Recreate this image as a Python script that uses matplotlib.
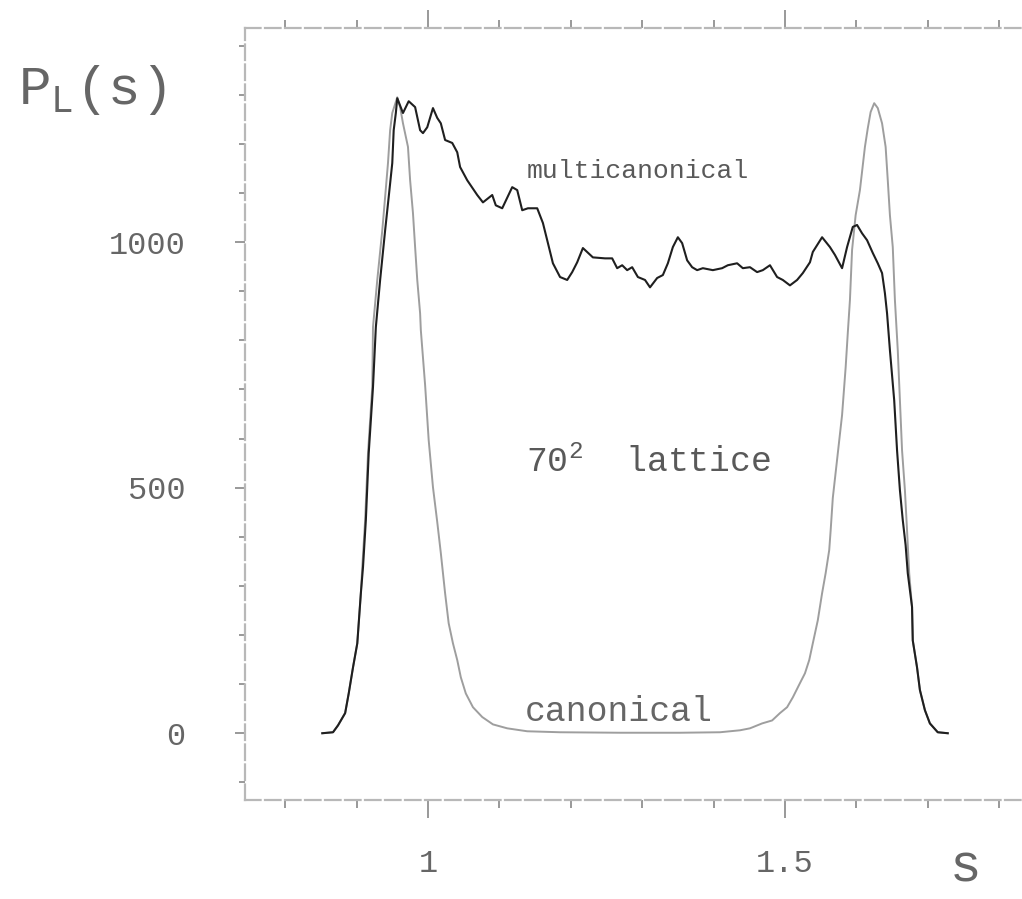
import numpy as np
import matplotlib
matplotlib.use('Agg')
import matplotlib.pyplot as plt
from matplotlib.ticker import MultipleLocator

plt.rcParams['font.family'] = ['Liberation Mono', 'DejaVu Sans Mono']
plt.rcParams['mathtext.fontset'] = 'custom'
plt.rcParams['mathtext.rm'] = 'Liberation Mono'
plt.rcParams['mathtext.it'] = 'Liberation Mono'

#%% probability distributions P_L(s), 70^2 lattice
s_can = [0.852, 0.867, 0.874, 0.884, 0.889, 0.895, 0.901, 0.906, 0.908, 0.912,
         0.916, 0.922, 0.923, 0.929, 0.936, 0.940, 0.944, 0.947, 0.950, 0.957,
         0.961, 0.965, 0.972, 0.975, 0.979, 0.982, 0.985, 0.989, 0.990, 0.996,
         1.001, 1.007, 1.013, 1.018, 1.024, 1.029, 1.035, 1.041, 1.046, 1.053,
         1.063, 1.076, 1.091, 1.111, 1.139, 1.185, 1.269, 1.353, 1.409, 1.437,
         1.451, 1.468, 1.482, 1.493, 1.503, 1.511, 1.521, 1.528, 1.534, 1.539,
         1.546, 1.552, 1.557, 1.562, 1.564, 1.567, 1.574, 1.580, 1.585, 1.588,
         1.591, 1.594, 1.599, 1.605, 1.612, 1.616, 1.620, 1.625, 1.630, 1.636,
         1.641, 1.644, 1.647, 1.651, 1.654, 1.658, 1.661, 1.664, 1.668, 1.671,
         1.674, 1.678, 1.679, 1.685, 1.689, 1.696, 1.703, 1.714, 1.728]
p_can = [0, 2, 16, 41, 81, 134, 183, 285, 338, 434,
         570, 705, 827, 923, 1024, 1092, 1161, 1228, 1263, 1295,
         1275, 1242, 1194, 1126, 1059, 990, 923, 855, 821, 709,
         597, 501, 430, 367, 285, 224, 183, 149, 114, 81,
         53, 33, 18, 10, 4, 2, 1, 1, 2, 6,
         10, 20, 26, 41, 53, 73, 102, 122, 149, 183,
         230, 285, 326, 373, 413, 479, 570, 648, 745, 815,
         882, 984, 1055, 1106, 1194, 1232, 1265, 1283, 1273, 1242,
         1194, 1126, 1055, 990, 882, 780, 678, 576, 495, 413,
         326, 257, 189, 134, 88, 47, 20, 2, 0]

s_mul = [0.852, 0.867, 0.874, 0.884, 0.889, 0.895, 0.901, 0.906, 0.909, 0.913,
         0.917, 0.923, 0.927, 0.933, 0.940, 0.945, 0.950, 0.952, 0.955, 0.957,
         0.965, 0.973, 0.982, 0.989, 0.993, 0.999, 1.007, 1.013, 1.018, 1.024,
         1.034, 1.041, 1.045, 1.055, 1.069, 1.077, 1.090, 1.095, 1.104, 1.118,
         1.125, 1.132, 1.140, 1.153, 1.161, 1.167, 1.175, 1.185, 1.195, 1.202,
         1.209, 1.217, 1.231, 1.248, 1.258, 1.265, 1.272, 1.279, 1.286, 1.294,
         1.304, 1.311, 1.321, 1.329, 1.336, 1.343, 1.350, 1.356, 1.363, 1.370,
         1.377, 1.385, 1.399, 1.412, 1.420, 1.433, 1.441, 1.451, 1.461, 1.469,
         1.479, 1.489, 1.497, 1.507, 1.517, 1.525, 1.535, 1.539, 1.552, 1.563,
         1.570, 1.580, 1.587, 1.595, 1.601, 1.608, 1.615, 1.623, 1.630, 1.636,
         1.640, 1.643, 1.647, 1.653, 1.657, 1.661, 1.665, 1.669, 1.672, 1.678,
         1.679, 1.685, 1.689, 1.696, 1.703, 1.714, 1.728]
p_mul = [0, 2, 16, 41, 81, 134, 183, 285, 338, 434,
         570, 705, 827, 923, 1024, 1092, 1161, 1228, 1263, 1293,
         1263, 1287, 1275, 1228, 1222, 1234, 1273, 1253, 1242, 1208,
         1202, 1183, 1153, 1126, 1096, 1081, 1096, 1075, 1069, 1112,
         1106, 1065, 1069, 1069, 1039, 1004, 957, 929, 923, 939,
         959, 988, 969, 967, 967, 947, 953, 943, 949, 929,
         923, 908, 927, 933, 957, 990, 1010, 998, 963, 949,
         943, 947, 943, 947, 953, 957, 947, 949, 939, 943,
         953, 929, 923, 912, 923, 937, 959, 980, 1010, 990,
         974, 947, 990, 1031, 1035, 1018, 1004, 978, 957, 937,
         896, 855, 780, 678, 576, 495, 434, 383, 326, 257,
         189, 134, 88, 47, 20, 2, 0]

xticks_major = [1.0, 1.5]
xtick_labels = ['1', '1.5']
yticks_major = [0, 500, 1000]
ytick_labels = ['0', '500', '1000']

#%%
fig = plt.figure(figsize=(10.22, 8.99), dpi=100)
ax = fig.add_axes([0.2397, 0.1101, 0.7603, 0.8587])

ax.plot(s_can, p_can, '-', color='0.62', linewidth=1.4)
ax.plot(s_mul, p_mul, '-', color='0.12', linewidth=1.5)

ax.set(xlim=(0.7437, 1.832), ylim=(-136, 1436))

for side in ['top', 'bottom', 'left']:
    ax.spines[side].set_color('0.72')
    ax.spines[side].set_linewidth(1.6)
    ax.spines[side].set_linestyle((0, (7, 2)))
ax.spines['right'].set_visible(False)

ax.xaxis.set_minor_locator(MultipleLocator(0.1))
ax.yaxis.set_minor_locator(MultipleLocator(100))
ax.set_xticks(xticks_major)
ax.set_xticklabels(xtick_labels)
ax.set_yticks(yticks_major)
ax.set_yticklabels(ytick_labels)

ax.tick_params(which='both', direction='out', top=True, right=False,
               color='0.6', width=1.4, labelcolor='0.4', labelsize=23)
ax.tick_params(axis='x', which='major', length=13, pad=22)
ax.tick_params(axis='x', which='minor', length=6)
ax.tick_params(axis='y', which='major', length=7, pad=36)
ax.tick_params(axis='y', which='minor', length=4)

ax.text(1.138, 1145, 'multicanonical', fontsize=19, color='0.35',
        ha='left', va='center')
ax.text(1.138, 552, r'70$^2$  lattice', fontsize=25, color='0.35',
        ha='left', va='center')
ax.text(1.136, 44, 'canonical', fontsize=25, color='0.4',
        ha='left', va='center')

fig.text(0.018, 0.884, r'P$_{\rm L}$(s)', fontsize=39, color='0.4',
         va='baseline')
fig.text(0.929, 0.02, 's', fontsize=38, color='0.4', va='baseline')

plt.savefig('out.png', dpi=100, transparent=False)
